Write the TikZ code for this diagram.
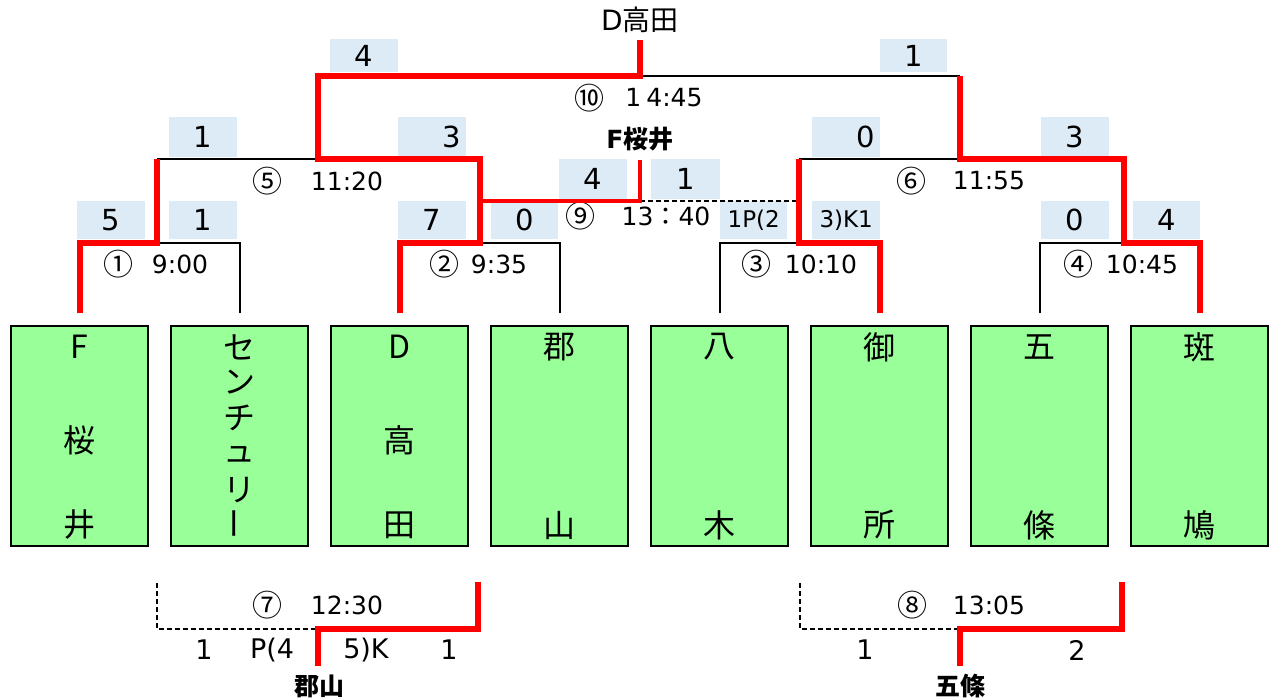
\documentclass[tikz,border=0pt]{standalone}
\usepackage{fontspec}
\setmainfont{DejaVu Sans}
\newfontfamily\cjk{Noto Sans CJK JP}
\usetikzlibrary{calc}
\definecolor{teamgreen}{HTML}{99FF99}
\definecolor{scorebg}{HTML}{DDEBF7}
\definecolor{winred}{HTML}{FF0000}
\tikzset{
  win/.style={draw=winred, line width=6pt, line join=miter},
  winthin/.style={draw=winred, line width=3.5pt, line join=miter},
  lose/.style={draw=black, line width=2pt},
  dsh/.style={draw=black, line width=1.6pt, dash pattern=on 5pt off 3pt},
  team/.style={draw=black, line width=2pt, fill=teamgreen, minimum width=137pt, minimum height=220pt, inner sep=0pt, anchor=north west},
  tname/.style={font=\cjk\fontsize{32}{32}\selectfont, inner sep=0pt},
  sbox/.style={fill=scorebg, inner sep=0pt, anchor=north west, font=\fontsize{29}{29}\selectfont, minimum width=68pt},
  sboxr/.style={sbox, inner xsep=5pt, text width=58pt, align=right},
  small/.style={font=\fontsize{23}{23}\selectfont},
  tm/.style={font=\fontsize{25}{25}\selectfont, inner sep=0pt},
  circ/.style={font=\cjk\fontsize{30}{30}\selectfont, inner sep=0pt},
  lbl/.style={font=\fontsize{27}{27}\selectfont, inner sep=0pt},
  head/.style={font=\fontsize{28}{28}\selectfont, inner sep=0pt},
  headb/.style={font=\bfseries\fontsize{25}{25}\selectfont, inner sep=0pt}
}
\begin{document}
\begin{tikzpicture}[x=1pt,y=-1pt]
\useasboundingbox (0,0) rectangle (1274,699);
% team boxes
\node[team] (t1) at (10,325) {};
\node[team] (t2) at (170,325) {};
\node[team] (t3) at (330,325) {};
\node[team] (t4) at (490,325) {};
\node[team] (t5) at (650,325) {};
\node[team] (t6) at (810,325) {};
\node[team] (t7) at (970,325) {};
\node[team] (t8) at (1130,325) {};
% team names
\node[tname] (n1a) at ([yshift=-22pt]t1.north) {F};
\node[tname] (n1b) at ([yshift=-115pt]t1.north) {桜};
\node[tname] (n1c) at ([yshift=-200pt]t1.north) {井};
\node[tname] (n2a) at ([yshift=-22pt]t2.north) {セ};
\node[tname] (n2b) at ([yshift=-57pt]t2.north) {ン};
\node[tname] (n2c) at ([yshift=-93pt]t2.north) {チ};
\node[tname] (n2d) at ([yshift=-129pt]t2.north) {ュ};
\node[tname] (n2e) at ([yshift=-165pt]t2.north) {リ};
\node[tname, rotate=90] (n2f) at ([yshift=-198pt]t2.north) {ー};
\node[tname] (n3a) at ([yshift=-22pt]t3.north) {D};
\node[tname] (n3b) at ([yshift=-115pt]t3.north) {高};
\node[tname] (n3c) at ([yshift=-200pt]t3.north) {田};
\node[tname] (n4a) at ([yshift=-22pt]t4.north) {郡};
\node[tname] (n4c) at ([yshift=-200pt]t4.north) {山};
\node[tname] (n5a) at ([yshift=-22pt]t5.north) {八};
\node[tname] (n5c) at ([yshift=-200pt]t5.north) {木};
\node[tname] (n6a) at ([yshift=-22pt]t6.north) {御};
\node[tname] (n6c) at ([yshift=-200pt]t6.north) {所};
\node[tname] (n7a) at ([yshift=-22pt]t7.north) {五};
\node[tname] (n7c) at ([yshift=-200pt]t7.north) {條};
\node[tname] (n8a) at ([yshift=-22pt]t8.north) {斑};
\node[tname] (n8c) at ([yshift=-200pt]t8.north) {鳩};
% score boxes
\node[sbox, minimum height=33pt] (sf1) at (330,39) {4};
\node[sbox, minimum height=33pt, minimum width=67pt] (sf2) at (880,39) {1};
\node[sbox, minimum height=40pt] (s5a) at (169,117) {1};
\node[sboxr, minimum height=40pt] (s5b) at (398,117) {3};
\node[sboxr, minimum height=40pt] (s6a) at (812,117) {0};
\node[sbox, minimum height=40pt] (s6b) at (1041,117) {3};
\node[sbox, minimum height=40pt] (s9a) at (559,159) {4};
\node[sbox, minimum height=40pt, minimum width=69pt] (s9b) at (651,159) {1};
\node[sbox, minimum height=38pt] (s1a) at (77,201) {5};
\node[sbox, minimum height=38pt] (s1b) at (169,201) {1};
\node[sbox, minimum height=38pt] (s2a) at (398,201) {7};
\node[sbox, minimum height=38pt, minimum width=67pt] (s2b) at (491,201) {0};
\node[sbox, minimum height=38pt, minimum width=67pt, small] (s3a) at (720,201) {1P(2};
\node[sbox, minimum height=38pt, small] (s3b) at (812,201) {3)K1};
\node[sbox, minimum height=38pt] (s4a) at (1041,201) {0};
\node[sbox, minimum height=38pt, minimum width=67pt] (s4b) at (1133,201) {4};
% headings
\node[head] (champ) at (640,20) {D{\cjk 高田}};
\node[headb] (fsak) at (640,139) {F{\cjk 桜井}};
\node[headb] (kori) at (319,686) {\cjk 郡山};
\node[headb] (gojo) at (960,686) {\cjk 五條};
% times
\node[circ] (m1) at (118,264) {①}; \node[tm] (m1t) at (180,264) {9:00};
\node[circ] (m2) at (444,264) {②}; \node[tm] (m2t) at (499,264) {9:35};
\node[circ] (m3) at (756,264) {③}; \node[tm] (m3t) at (821,264) {10:10};
\node[circ] (m4) at (1078,264) {④}; \node[tm] (m4t) at (1142,264) {10:45};
\node[circ] (m5) at (267,181) {⑤}; \node[tm] (m5t) at (347,181) {11:20};
\node[circ] (m6) at (911,181) {⑥}; \node[tm] (m6t) at (989,181) {11:55};
\node[circ] (m9) at (580,216) {⑨}; \node[tm] (m9t) at (666,216) {13{\cjk ：}40};
\node[circ] (m10) at (589,98) {⑩}; \node[tm] (m10t) at (664,98) {1\kern5pt 4:45};
\node[circ] (m7) at (267,605) {⑦}; \node[tm] (m7t) at (347,605) {12:30};
\node[circ] (m8) at (912,605) {⑧}; \node[tm] (m8t) at (989,605) {13:05};
% bottom labels
\node[lbl] (b1) at (204,650) {1};
\node[lbl] (b2) at (272,650) {P(4};
\node[lbl] (b3) at (366,650) {5)K};
\node[lbl] (b4) at (449,650) {1};
\node[lbl] (b5) at (865,650) {1};
\node[lbl] (b6) at (1077,650) {2};
% joints
\coordinate (J1) at (157,243);
\coordinate (J2) at (480,243);
\coordinate (J3) at (799,243);
\coordinate (J4) at (1124,243);
\coordinate (J5) at (318,159);
\coordinate (J6) at (960,159);
\coordinate (J10) at (640,76);
\coordinate (c10) at (640,40);
\coordinate (N9) at (640,201);
\coordinate (c9) at (640,160);
\coordinate (B7L) at (157,583);
\coordinate (B7R) at (478,582);
\coordinate (J7) at (318,629);
\coordinate (e7) at (318,666);
\coordinate (B8L) at (800,583);
\coordinate (B8R) at (1122,582);
\coordinate (J8) at (960,629);
\coordinate (e8) at (960,666);
% round 1
\draw[lose] (J1) -| ([yshift=12pt]t2.north);
\draw[lose] (J2) -| ([yshift=12pt]t4.north);
\draw[lose] ([yshift=12pt]t5.north) |- (J3);
\draw[lose] ([yshift=12pt]t7.north) |- (J4);
% second round / final black parts
\draw[lose] (J1 |- J5) -- (J5);
\draw[lose] (J3 |- J6) -- (J6);
\draw[lose] (J10) -- (J10 -| J6);
\draw[dsh] (N9) -- (N9 -| J3);
% red winners
\draw[win] ([yshift=12pt]t1.north) |- (J1) -- (J1 |- J5);
\draw[win] ([yshift=12pt]t3.north) |- (J2) -- (J2 |- J5) -- (J5) |- (J10) -- (c10);
\draw[win] ([yshift=12pt]t6.north) |- (J3) -- (J3 |- J6);
\draw[win] ([yshift=12pt]t8.north) |- (J4) -- (J4 |- J6) -- (J6) -- (J6 |- J10);
\draw[winthin] (J2 |- N9) -- (N9) -- (c9);
% bottom matches
\draw[dsh] (B7L) |- (J7);
\draw[win] (B7R) |- (J7) -- (e7);
\draw[dsh] (B8L) |- (J8);
\draw[win] (B8R) |- (J8) -- (e8);
\end{tikzpicture}
\end{document}
